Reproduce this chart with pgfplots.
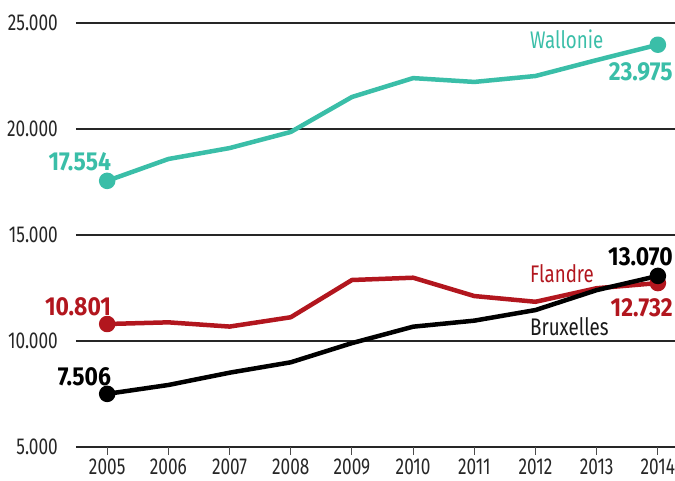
\documentclass[border=0pt]{standalone}
\usepackage{fontspec}
\setmainfont{Fira Sans}[FakeStretch=0.75]
\newfontfamily\labfont{Fira Sans}[FakeStretch=0.88]
\newfontfamily\namefont{Fira Sans}[FakeStretch=0.78]
\usepackage{pgfplots}
\pgfplotsset{compat=1.18}
\definecolor{teal2}{RGB}{58,190,168}
\definecolor{red2}{RGB}{178,22,30}
\begin{document}
\begin{tikzpicture}
\useasboundingbox (-76pt,-34pt) rectangle (599pt,447pt);
\begin{axis}[at={(0,0)}, anchor=south west, scale only axis, width=599pt, height=424pt,
 xmin=2004.49, xmax=2014.28, ymin=5000, ymax=25000,
 axis line style={draw=none},
 scaled ticks=false,
 ytick={5000,10000,15000,20000,25000}, ymajorgrids, grid style={line width=1.3pt, black!85},
 xtick={2005,2006,...,2014}, xtick pos=bottom, ytick pos=left,
 x tick label style={/pgf/number format/1000 sep={}},
 y tick label style={/pgf/number format/1000 sep={.}, inner sep=0pt, xshift=-10pt},
 /pgf/number format/assume math mode=true,
 tick label style={font=\fontsize{23}{26}\selectfont, text=black!85},
 ytick style={draw=none}, xtick style={line width=1pt, black!70},
 tick align=outside, major tick length=8pt,
 clip=false]
\addplot[teal2, line width=4.5pt, line join=round, mark=*, mark size=6pt, mark indices={1,10}, mark options={solid}] coordinates {
(2005,17554) (2006,18585) (2007,19100) (2008,19860) (2009,21509) (2010,22400) (2011,22220) (2012,22500) (2013,23250) (2014,23975)};
\addplot[red2, line width=4.5pt, line join=round, mark=*, mark size=6pt, mark indices={1,10}, mark options={solid}] coordinates {
(2005,10801) (2006,10880) (2007,10680) (2008,11120) (2009,12877) (2010,12985) (2011,12120) (2012,11850) (2013,12490) (2014,12732)};
\addplot[black, line width=4.5pt, line join=round, mark=*, mark size=6pt, mark indices={1,10}, mark options={solid}] coordinates {
(2005,7506) (2006,7925) (2007,8505) (2008,8995) (2009,9900) (2010,10675) (2011,10960) (2012,11460) (2013,12400) (2014,13070)};
\node[anchor=south east, inner sep=0pt, text=teal2, font=\labfont\bfseries\fontsize{26}{28}\selectfont] at ([xshift=4pt,yshift=10pt]axis cs:2005,17554) {17.554};
\node[anchor=south east, inner sep=0pt, text=red2, font=\labfont\bfseries\fontsize{26}{28}\selectfont] at ([xshift=4pt,yshift=8pt]axis cs:2005,10801) {10.801};
\node[anchor=south east, inner sep=0pt, text=black, font=\labfont\bfseries\fontsize{26}{28}\selectfont] at ([xshift=4pt,yshift=8pt]axis cs:2005,7506) {7.506};
\node[anchor=north east, inner sep=0pt, text=teal2, font=\labfont\bfseries\fontsize{26}{28}\selectfont] at ([xshift=15pt,yshift=-18pt]axis cs:2014,23975) {23.975};
\node[anchor=south east, inner sep=0pt, text=black, font=\labfont\bfseries\fontsize{26}{28}\selectfont] at ([xshift=15pt,yshift=10pt]axis cs:2014,13070) {13.070};
\node[anchor=north east, inner sep=0pt, text=red2, font=\labfont\bfseries\fontsize{26}{28}\selectfont] at ([xshift=15pt,yshift=-15pt]axis cs:2014,12732) {12.732};
\node[anchor=base west, inner sep=0pt, text=teal2, font=\namefont\fontsize{24}{26}\selectfont] at (axis cs:2011.91,23774) {Wallonie};
\node[anchor=base west, inner sep=0pt, text=red2, font=\namefont\fontsize{24}{26}\selectfont] at (axis cs:2011.91,12736) {Flandre};
\node[anchor=base west, inner sep=0pt, text=black!90, font=\namefont\fontsize{24}{26}\selectfont] at (axis cs:2011.91,10236) {Bruxelles};
\end{axis}
\end{tikzpicture}
\end{document}
